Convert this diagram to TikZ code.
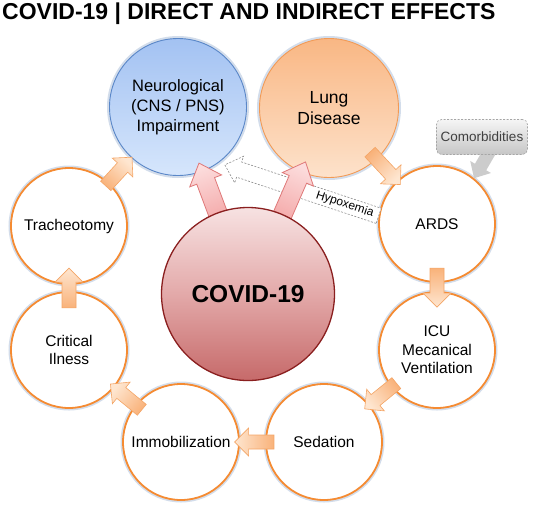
\documentclass[tikz,border=0pt]{standalone}
\usepackage{fontspec}
\setmainfont{Liberation Sans}
\usetikzlibrary{calc}

\definecolor{ringline}{HTML}{F58B32}
\definecolor{glowcol}{HTML}{D3DDEB}
\definecolor{neurotop}{HTML}{A3C2F2}
\definecolor{neurobot}{HTML}{D6E6FC}
\definecolor{neuroline}{HTML}{5A87C8}
\definecolor{lungtop}{HTML}{F9B784}
\definecolor{lungbot}{HTML}{FDE2CB}
\definecolor{lungline}{HTML}{F29A55}
\definecolor{covtop}{HTML}{F7E2E2}
\definecolor{covmid}{HTML}{E3A9A9}
\definecolor{covbot}{HTML}{C66A6A}
\definecolor{covline}{HTML}{8A1F1F}
\definecolor{pinkhead}{HTML}{FCDCDC}
\definecolor{pinktail}{HTML}{F4AAAA}
\definecolor{pinkline}{HTML}{DF7878}
\definecolor{orhead}{HTML}{FEE6D0}
\definecolor{ortail}{HTML}{F9B27A}
\definecolor{orline}{HTML}{F4A566}
\definecolor{boxtop}{HTML}{F5F5F5}
\definecolor{boxbot}{HTML}{C6C6C6}
\definecolor{boxline}{HTML}{A6A6A6}
\definecolor{boxtext}{HTML}{404040}
\definecolor{hypoline}{HTML}{8C8C8C}

\pgfdeclarelayer{front}
\pgfsetlayers{main,front}

\tikzset{
  shaftw/.store in=\shaftw, headw/.store in=\headw, headl/.store in=\headl,
  shaftw=7pt, headw=14pt, headl=14pt
}

% block arrow from #2 to #3
\newcommand\blockarrow[3][]{%
  \path[#1] let \p1=(#2), \p2=(#3), \p3=($(\p2)!\headl!(\p1)$) in
    ($(\p1)!\shaftw!90:(\p2)$) -- ($(\p3)!\shaftw!90:(\p2)$) -- ($(\p3)!\headw!90:(\p2)$)
    -- (\p2) -- ($(\p3)!\headw!-90:(\p2)$) -- ($(\p3)!\shaftw!-90:(\p2)$)
    -- ($(\p1)!\shaftw!-90:(\p2)$) -- cycle;
}

\begin{document}
\begin{tikzpicture}[x=1pt, y=-1pt,
  glow/.style={preaction={draw=glowcol, line width=5pt}},
  ring/.style={circle, draw=ringline, line width=1.8pt, fill=white, minimum size=116pt, inner sep=0pt, align=center, font=\fontsize{15.5}{18.5}\selectfont, glow},
  neurobub/.style={circle, draw=neuroline, line width=0.9pt, top color=neurotop, bottom color=neurobot, minimum size=137pt, inner sep=0pt, align=center, font=\fontsize{16.5}{20}\selectfont, glow},
  lungbub/.style={circle, draw=lungline, line width=0.9pt, top color=lungtop, bottom color=lungbot, minimum size=139pt, inner sep=0pt, align=center, font=\fontsize{17.5}{20.5}\selectfont, glow},
  covidbub/.style={circle, draw=covline, line width=1.3pt, top color=covtop, bottom color=covbot, middle color=covmid, minimum size=173pt, inner sep=0pt, font=\fontsize{24.5}{28}\selectfont\bfseries},
  orangearr/.style={draw=orline, line width=0.6pt, top color=orhead, bottom color=ortail},
  pinkarr/.style={draw=pinkline, line width=0.8pt, top color=pinkhead, bottom color=pinktail, shaftw=9.5pt, headw=17pt, headl=19pt},
  hypoarr/.style={draw=hypoline, fill=white, line width=0.6pt, dash pattern=on 2pt off 1.5pt, shaftw=8pt, headw=14pt, headl=15pt},
  grayarr/.style={fill=boxbot!90, shaftw=6.5pt, headw=12pt, headl=13pt},
  comorbox/.style={draw=boxline, dash pattern=on 2pt off 1.5pt, line width=0.6pt, rounded corners=5pt, top color=boxtop, bottom color=boxbot, minimum width=91pt, minimum height=35pt, text=boxtext, font=\fontsize{13.5}{16}\selectfont},
  hypotext/.style={font=\fontsize{12}{14}\selectfont, inner sep=0pt}
]
  \useasboundingbox (0,0) rectangle (536,507);

  \node[anchor=base west, inner sep=0pt, font=\fontsize{23}{27}\selectfont\bfseries] (title) at (2,19) {COVID-19 | DIRECT AND INDIRECT EFFECTS};

  % indirect path
  \node[ring] (ards) at (437,224) {ARDS};
  \node[ring] (icu) at (437,350) {ICU\\Mecanical\\Ventilation};
  \node[ring] (sedation) at (324,442) {Sedation};
  \node[ring] (immob) at (181,442) {Immobilization};
  \node[ring] (critical) at (69,350) {Critical\\Ilness};
  \node[ring] (trach) at (69,226) {Tracheotomy};

  \node[neurobub] (neuro) at (178,107) {Neurological\\(CNS / PNS)\\Impairment};
  \node[lungbub] (lung) at (329,108) {Lung\\Disease};

  \begin{pgfonlayer}{front}
    \node[covidbub] (covid) at (248,294) {COVID-19};
    \node[comorbox] (comorb) at (482,137) {Comorbidities};
  \end{pgfonlayer}

  % hypoxemia
  \blockarrow[hypoarr]{ards.172}{$(neuro)!1.08!(neuro.-51)$}
  \path (ards.172) -- ($(neuro)!1.08!(neuro.-51)$) node[hypotext, pos=0.22, sloped] (hypox) {Hypoxemia};

  % direct effects
  \blockarrow[pinkarr, shading angle=20]{$(covid)!0.4!(neuro)$}{$(covid)!0.7!(neuro)$}
  \blockarrow[pinkarr, shading angle=-23.5]{$(covid)!0.4!(lung)$}{$(covid)!0.71!(lung)$}

  % indirect effects
  \blockarrow[orangearr, shading angle=-137]{$(lung)!0.38!(ards)$}{$(lung)!0.66!(ards)$}
  \blockarrow[orangearr, shading angle=180]{$(ards)!0.35!(icu)$}{$(ards)!0.66!(icu)$}
  \blockarrow[orangearr, shading angle=129.4]{$(icu)!0.36!(sedation)$}{$(icu)!0.64!(sedation)$}
  \blockarrow[orangearr, shading angle=90]{$(sedation)!0.35!(immob)$}{$(sedation)!0.625!(immob)$}
  \blockarrow[orangearr, shading angle=50.6]{$(immob)!0.35!(critical)$}{$(immob)!0.63!(critical)$}
  \blockarrow[orangearr, shading angle=0]{$(critical)!0.34!(trach)$}{$(critical)!0.66!(trach)$}
  \blockarrow[orangearr, shading angle=-42.7]{$(trach)!0.337!(neuro)$}{$(trach)!0.578!(neuro)$}

  % comorbidities
  \blockarrow[grayarr]{$(comorb.south)+(8,-4)$}{ards.51}
\end{tikzpicture}
\end{document}
